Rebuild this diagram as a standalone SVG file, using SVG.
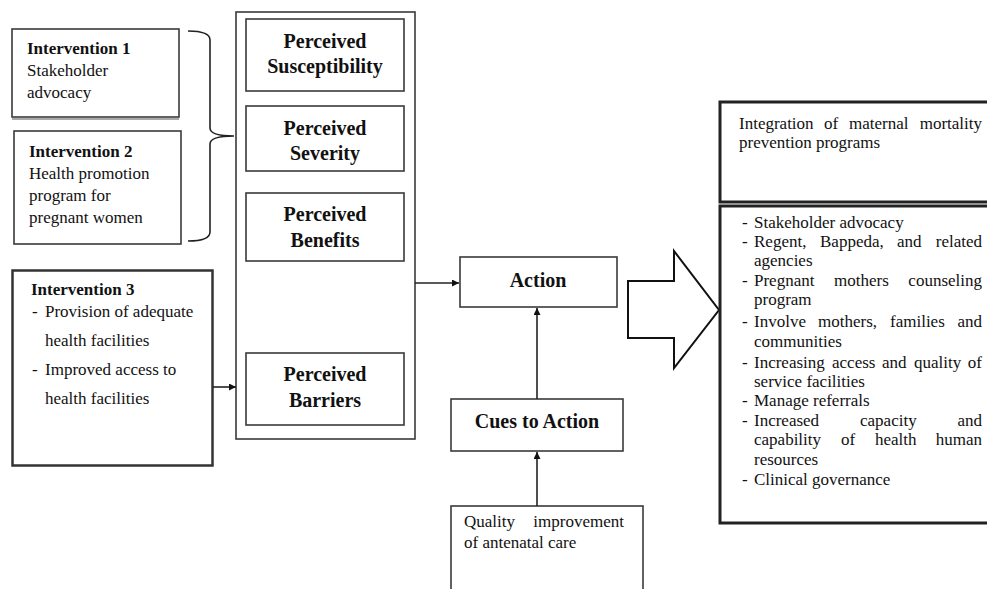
<svg xmlns="http://www.w3.org/2000/svg" width="987" height="589" viewBox="0 0 987 589">
<defs>
<style>
.box{fill:#fff;stroke:#3a3a3a;stroke-width:1.6}
.thick{fill:#fff;stroke:#222;stroke-width:3}
.t{font-family:"Liberation Serif","Times New Roman",serif;font-size:17px;fill:#111}
.e{text-anchor:end}
.b{font-family:"Liberation Serif","Times New Roman",serif;font-size:17px;font-weight:bold;fill:#111}
.h{font-family:"Liberation Serif","Times New Roman",serif;font-size:20px;font-weight:bold;fill:#111;text-anchor:middle}
.ln{fill:none;stroke:#222;stroke-width:1.6}
</style>
<marker id="ah" viewBox="0 0 10 10" refX="10" refY="5" markerWidth="7" markerHeight="7" markerUnits="userSpaceOnUse" orient="auto">
<path d="M0,0 L10,5 L0,10 z" fill="#111"/>
</marker>
</defs>
<rect width="987" height="589" fill="#fff"/>

<g id="intervention1">
<rect class="box" x="12" y="29" width="167" height="88"/>
<line x1="12" y1="119" x2="179" y2="119" stroke="#555" stroke-width="1.2"/>
<text class="b" x="27" y="54">Intervention 1</text>
<text class="t" x="27" y="76">Stakeholder</text>
<text class="t" x="27" y="98">advocacy</text>
</g>

<g id="intervention2">
<rect class="box" x="14" y="131" width="167" height="113"/>
<text class="b" x="29" y="157">Intervention 2</text>
<text class="t" x="29" y="179">Health promotion</text>
<text class="t" x="29" y="201">program for</text>
<text class="t" x="29" y="223">pregnant women</text>
</g>

<g id="brace">
<path class="ln" d="M188,31 Q210,31 210,40 L210,128 Q210,136 234,136 Q210,136 210,144 L210,232 Q210,241 188,241"/>
</g>

<g id="intervention3">
<rect x="12.5" y="270.5" width="200" height="195" fill="#fff" stroke="#333" stroke-width="2.5"/>
<text class="b" x="31" y="295">Intervention 3</text>
<text class="t" x="32" y="317">-</text>
<text class="t" x="45" y="317">Provision of adequate</text>
<text class="t" x="45" y="346">health facilities</text>
<text class="t" x="32" y="375">-</text>
<text class="t" x="45" y="375">Improved access to</text>
<text class="t" x="45" y="404">health facilities</text>
</g>

<g id="perceived-group">
<rect class="box" x="236" y="12" width="179" height="427"/>
</g>

<g id="susceptibility">
<rect class="box" x="246" y="19" width="158" height="72"/>
<text class="h" x="325" y="48">Perceived</text>
<text class="h" x="325" y="73">Susceptibility</text>
</g>

<g id="severity">
<rect class="box" x="246" y="106" width="158" height="65"/>
<text class="h" x="325" y="135">Perceived</text>
<text class="h" x="325" y="160">Severity</text>
</g>

<g id="benefits">
<rect class="box" x="246" y="193" width="158" height="68"/>
<text class="h" x="325" y="221">Perceived</text>
<text class="h" x="325" y="247">Benefits</text>
</g>

<g id="barriers">
<rect class="box" x="246" y="353" width="158" height="72"/>
<text class="h" x="325" y="381">Perceived</text>
<text class="h" x="325" y="407">Barriers</text>
</g>

<g id="action">
<rect class="box" x="460" y="257" width="157" height="50"/>
<text class="h" x="538" y="287">Action</text>
</g>

<g id="cues">
<rect class="box" x="451" y="399" width="172" height="52"/>
<text class="h" x="537" y="428">Cues to Action</text>
</g>

<g id="quality">
<rect class="box" x="451" y="506" width="192" height="100"/>
<text class="t" x="464" y="527">Quality</text><text class="t e" x="624" y="527">improvement</text>
<text class="t" x="464" y="548">of antenatal care</text>
</g>

<g id="block-arrow">
<path d="M628,281 L674,281 L674,251 L719,310 L674,368 L674,338 L628,338 Z" fill="#fff" stroke="#111" stroke-width="2"/>
</g>

<g id="integration">
<rect class="thick" x="720" y="102" width="280" height="100"/>
<g class="t">
<text x="739" y="129">Integration</text><text x="824" y="129">of</text><text x="849" y="129">maternal</text><text class="e" x="982" y="129">mortality</text>
<text x="739" y="148">prevention programs</text>
</g>
</g>

<g id="strategies">
<rect class="thick" x="720" y="206" width="280" height="317"/>
<g class="t">
<text x="742" y="228">-</text><text x="754" y="228">Stakeholder advocacy</text>
<text x="742" y="247">-</text><text x="754" y="247">Regent,</text><text x="820" y="247">Bappeda,</text><text x="897" y="247">and</text><text class="e" x="982" y="247">related</text>
<text x="754" y="266">agencies</text>
<text x="742" y="286">-</text><text x="754" y="286">Pregnant</text><text x="834" y="286">mothers</text><text class="e" x="982" y="286">counseling</text>
<text x="754" y="305">program</text>
<text x="742" y="327">-</text><text x="754" y="327">Involve</text><text x="818" y="327">mothers,</text><text x="890" y="327">families</text><text class="e" x="982" y="327">and</text>
<text x="754" y="347">communities</text>
<text x="742" y="368">-</text><text x="754" y="368">Increasing</text><text x="832" y="368">access</text><text x="882" y="368">and</text><text x="914" y="368">quality</text><text class="e" x="982" y="368">of</text>
<text x="754" y="387">service facilities</text>
<text x="742" y="406">-</text><text x="754" y="406">Manage referrals</text>
<text x="742" y="426">-</text><text x="754" y="426">Increased</text><text x="860" y="426">capacity</text><text class="e" x="982" y="426">and</text>
<text x="754" y="445">capability</text><text x="841" y="445">of</text><text x="875" y="445">health</text><text class="e" x="982" y="445">human</text>
<text x="754" y="465">resources</text>
<text x="742" y="485">-</text><text x="754" y="485">Clinical governance</text>
</g>
</g>

<g id="connectors">
<line class="ln" x1="213" y1="387" x2="236" y2="387" marker-end="url(#ah)"/>
<line class="ln" x1="415" y1="283" x2="459" y2="283" marker-end="url(#ah)"/>
<line class="ln" x1="537" y1="399" x2="537" y2="308" marker-end="url(#ah)"/>
<line class="ln" x1="537" y1="506" x2="537" y2="452" marker-end="url(#ah)"/>
</g>
</svg>
